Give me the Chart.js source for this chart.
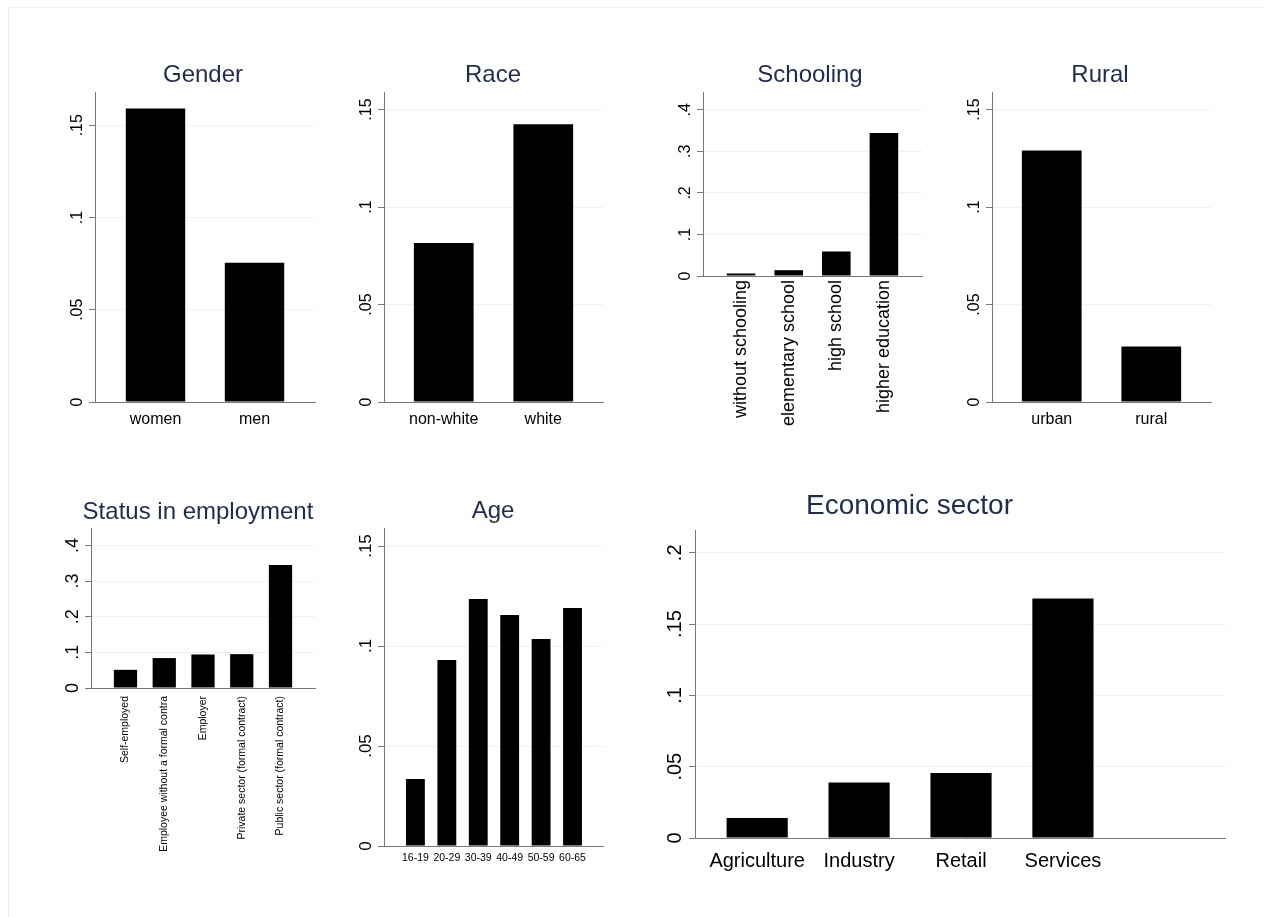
<!DOCTYPE html>
<html lang="en">
<head>
    <meta charset="UTF-8">
    <title>Share by group</title>
    <script src="https://cdn.jsdelivr.net/npm/chart.js"></script>
    <style>
        body { margin: 0; background: #fff; width: 1264px; height: 917px; overflow: hidden; position: relative; }
        .frame { position: absolute; left: 8px; top: 7px; width: 1400px; height: 1000px;
                 border-left: 1px solid #edf0ef; border-top: 1px solid #edf0ef; }
        .panel { position: absolute; }
    </style>
</head>
<body>
    <div class="frame"></div>
    <div id="wrap"></div>

    <script type="text/javascript">
        // values
        const genderLabels = ['women', 'men'];
        const genderValues = [0.159, 0.0755];

        const raceLabels = ['non-white', 'white'];
        const raceValues = [0.0815, 0.1425];

        const schoolLabels = ['without schooling', 'elementary school', 'high school', 'higher education'];
        const schoolValues = [0.006, 0.014, 0.059, 0.344];

        const ruralLabels = ['urban', 'rural'];
        const ruralValues = [0.129, 0.0285];

        const statusLabels = ['Self-employed', 'Employee without a formal contra', 'Employer',
            'Private sector (formal contract)', 'Public sector (formal contract)'];
        const statusValues = [0.051, 0.084, 0.094, 0.095, 0.345];

        const ageLabels = ['16-19', '20-29', '30-39', '40-49', '50-59', '60-65'];
        const ageValues = [0.0335, 0.093, 0.1235, 0.1155, 0.1035, 0.119];

        const sectorLabels = ['Agriculture', 'Industry', 'Retail', 'Services'];
        const sectorValues = [0.014, 0.039, 0.0455, 0.168];

        // y tick marks and their Stata-style labels
        const ticks15 = [0, 0.05, 0.1, 0.15];
        const ticks15Text = ['0', '.05', '.1', '.15'];
        const ticks4 = [0, 0.1, 0.2, 0.3, 0.4];
        const ticks4Text = ['0', '.1', '.2', '.3', '.4'];
        const ticks2 = [0, 0.05, 0.1, 0.15, 0.2];
        const ticks2Text = ['0', '.05', '.1', '.15', '.2'];

        const FONT = "'Liberation Sans', Arial, sans-serif";
        const TITLE_COLOR = '#1e2c4f';
        const GRID_COLOR = '#eaf2f3';
        const AXIS_COLOR = '#777777';

        Chart.defaults.font.family = FONT;
        Chart.defaults.color = '#000';

        // box = plot area on the page [left, top, right, bottom]
        const panels = [
            { title: 'Gender', cats: genderLabels, vals: genderValues, yt: ticks15, ytText: ticks15Text, yMax: 0.168,
              xMin: -0.611, xMax: 1.611, box: [95, 92, 315, 402], titleX: 203, titleY: 75, titleSize: 24,
              yFont: 16, xFont: 16, xPad: 8, rot: 0, below: 40 },
            { title: 'Race', cats: raceLabels, vals: raceValues, yt: ticks15, ytText: ticks15Text, yMax: 0.159,
              xMin: -0.6, xMax: 1.6, box: [384, 92, 603, 402], titleX: 493, titleY: 75, titleSize: 24,
              yFont: 16, xFont: 16, xPad: 8, rot: 0, below: 40 },
            { title: 'Schooling', cats: schoolLabels, vals: schoolValues, yt: ticks4, ytText: ticks4Text, yMax: 0.443,
              xMin: -0.8, xMax: 3.8, box: [703, 92, 922, 276], titleX: 810, titleY: 75, titleSize: 24,
              yFont: 16, xFont: 18, xPad: 4, rot: 90, below: 150 },
            { title: 'Rural', cats: ruralLabels, vals: ruralValues, yt: ticks15, ytText: ticks15Text, yMax: 0.159,
              xMin: -0.6, xMax: 1.6, box: [992, 92, 1211, 402], titleX: 1100, titleY: 75, titleSize: 24,
              yFont: 16, xFont: 16, xPad: 8, rot: 0, below: 40 },
            { title: 'Status in employment', cats: statusLabels, vals: statusValues, yt: ticks4, ytText: ticks4Text, yMax: 0.449,
              xMin: -0.89, xMax: 4.89, box: [91, 528, 315, 688], titleX: 198, titleY: 512, titleSize: 24,
              yFont: 18, xFont: 10.5, xPad: 8, rot: 90, below: 175 },
            { title: 'Age', cats: ageLabels, vals: ageValues, yt: ticks15, ytText: ticks15Text, yMax: 0.159,
              xMin: -1.0, xMax: 5.97, box: [384, 528, 603, 846], titleX: 493, titleY: 511, titleSize: 24,
              yFont: 17, xFont: 10.5, xPad: 6, rot: 0, below: 30 },
            { title: 'Economic sector', cats: sectorLabels, vals: sectorValues, yt: ticks2, ytText: ticks2Text, yMax: 0.216,
              xMin: -0.61, xMax: 4.59, box: [695, 530, 1225, 838], titleX: 909.5, titleY: 506, titleSize: 28,
              yFont: 20, xFont: 20, xPad: 11, rot: 0, below: 45 }
        ];

        // Stata writes the y labels turned on their side
        const sideYLabels = {
            id: 'sideYLabels',
            afterDraw(chart, args, opts) {
                const y = chart.scales.y;
                const ctx = chart.ctx;
                ctx.save();
                ctx.font = opts.size + 'px ' + FONT;
                ctx.fillStyle = '#000';
                ctx.textAlign = 'center';
                ctx.textBaseline = 'alphabetic';
                opts.values.forEach(function (v, i) {
                    ctx.save();
                    ctx.translate(chart.chartArea.left - opts.gap, y.getPixelForValue(v));
                    ctx.rotate(-Math.PI / 2);
                    ctx.fillText(opts.text[i], 0, 0);
                    ctx.restore();
                });
                ctx.restore();
            }
        };

        const wrap = document.getElementById('wrap');

        panels.forEach(function (p) {
            const [L, T, R, B] = p.box;
            const cx = Math.min(L - 40, Math.floor(2 * p.titleX - R - 4));
            const cw = Math.round(2 * (p.titleX - cx));
            const cy = Math.round(p.titleY - 0.6 * p.titleSize);
            const ch = B + p.below - cy;
            const yWidth = L - cx;
            const rightGap = cx + cw - R;
            const titleGap = T - cy - 1.2 * p.titleSize;

            const div = document.createElement('div');
            div.className = 'panel';
            div.style.left = cx + 'px';
            div.style.top = cy + 'px';
            const canvas = document.createElement('canvas');
            canvas.width = cw;
            canvas.height = ch;
            div.appendChild(canvas);
            wrap.appendChild(div);

            new Chart(canvas, {
                type: 'bar',
                data: {
                    datasets: [{
                        data: p.vals.map(function (v, i) { return { x: i, y: v }; }),
                        backgroundColor: '#000',
                        borderWidth: 0,
                        barPercentage: 0.6,
                        categoryPercentage: 1
                    }]
                },
                options: {
                    responsive: false,
                    animation: false,
                    layout: { padding: 0 },
                    plugins: {
                        legend: { display: false },
                        tooltip: { enabled: false },
                        title: {
                            display: true,
                            text: p.title,
                            color: TITLE_COLOR,
                            font: { size: p.titleSize, weight: 'normal', lineHeight: 1.2 },
                            padding: { top: 0, bottom: titleGap }
                        },
                        sideYLabels: { values: p.yt, text: p.ytText, size: p.yFont, gap: p.titleSize > 24 ? 14 : 13 }
                    },
                    scales: {
                        x: {
                            type: 'linear',
                            offset: false,
                            min: p.xMin,
                            max: p.xMax,
                            grid: { display: false, drawTicks: false, tickLength: 0 },
                            border: { display: true, color: AXIS_COLOR, width: 1 },
                            afterBuildTicks: function (s) {
                                s.ticks = p.cats.map(function (c, i) { return { value: i }; });
                            },
                            afterFit: function (s) { s.height = p.below; },
                            ticks: {
                                autoSkip: false,
                                padding: p.xPad,
                                minRotation: p.rot,
                                maxRotation: p.rot,
                                font: { size: p.xFont },
                                color: '#000',
                                callback: function (v) { return p.cats[v]; }
                            }
                        },
                        y: {
                            min: 0,
                            max: p.yMax,
                            afterBuildTicks: function (s) {
                                s.ticks = p.yt.map(function (v) { return { value: v }; });
                            },
                            afterFit: function (s) { s.width = yWidth; },
                            ticks: { display: false },
                            grid: { color: GRID_COLOR, tickColor: AXIS_COLOR, tickLength: 6, drawTicks: true },
                            border: { display: true, color: AXIS_COLOR, width: 1 }
                        },
                        pad: {
                            type: 'linear',
                            position: 'right',
                            display: true,
                            grid: { display: false },
                            ticks: { display: false },
                            border: { display: false },
                            afterFit: function (s) { s.width = rightGap; }
                        }
                    }
                },
                plugins: [sideYLabels]
            });
        });
    </script>
</body>
</html>
